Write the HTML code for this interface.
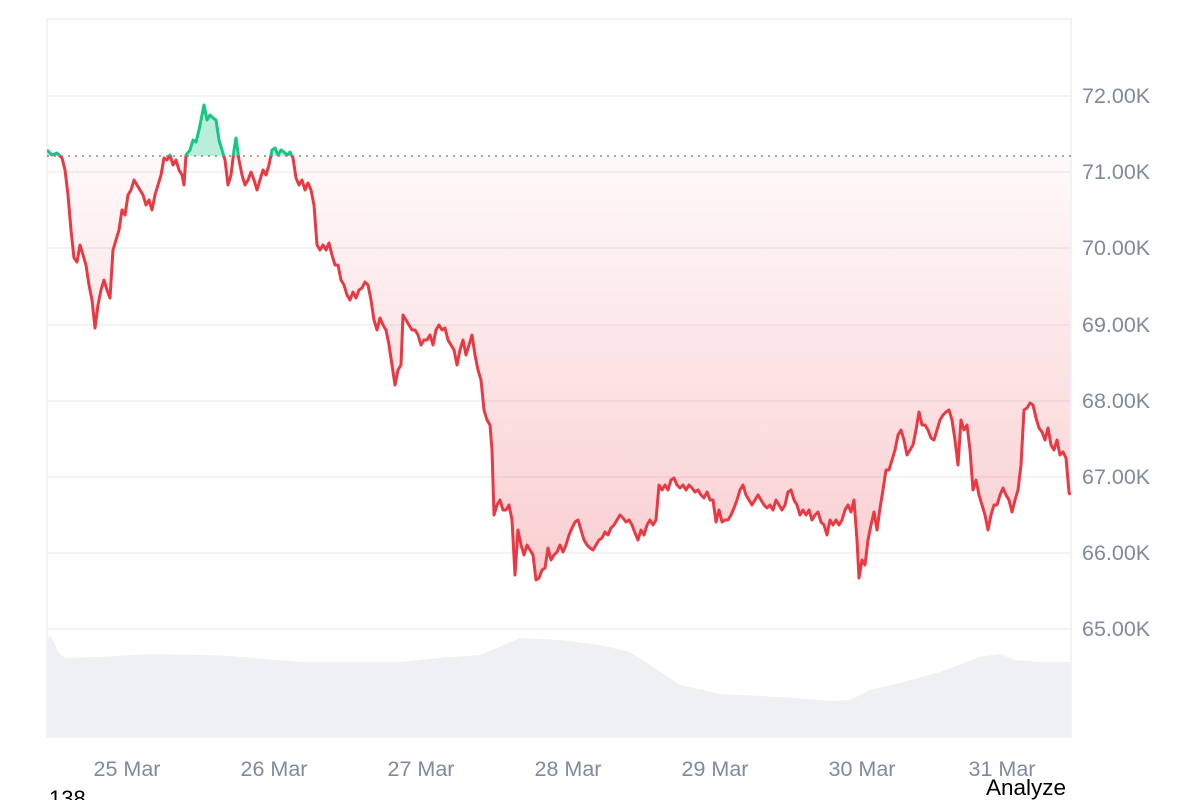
<!DOCTYPE html>
<html><head><style>
body{margin:0;background:#fff;width:1200px;height:800px;overflow:hidden;font-family:"Liberation Sans",sans-serif;}
</style></head><body>
<svg width="1200" height="800" xmlns="http://www.w3.org/2000/svg" style="position:absolute;left:0;top:0">
<defs>
<linearGradient id="rg" gradientUnits="userSpaceOnUse" x1="0" y1="156" x2="0" y2="590">
<stop offset="0" stop-color="#ea3943" stop-opacity="0.03"/>
<stop offset="1" stop-color="#ea3943" stop-opacity="0.25"/>
</linearGradient>
<clipPath id="below"><rect x="47" y="156" width="1030" height="600"/></clipPath>
<clipPath id="above"><rect x="47" y="0" width="1030" height="156"/></clipPath>
<path id="area" d="M47,156 L47,150 52,155 57,153 62,158 65,170 68,195 71,230 74,258 77,262 80,245 83,255 86,265 89,285 92,300 95,328 98,305 101,290 104,280 107,290 110,298 113,250 116,240 119,230 122,210 125,215 128,195 131,190 134,180 137,185 140,190 143,195 146,205 149,200 152,210 155,195 158,185 161,175 164,158 167,160 170,155 173,165 176,160 179,170 182,175 184,185 186,155 190,150 193,140 196,142 199,130 202,115 204,105 207,120 210,115 213,118 216,120 219,140 222,150 225,160 228,185 231,175 234,150 236,138 239,160 242,175 245,185 248,180 251,172 254,180 257,190 260,180 263,170 266,175 269,165 272,150 275,148 278,155 281,150 284,152 287,155 290,152 293,158 296,178 299,185 302,180 305,190 308,183 311,190 314,205 317,245 320,250 323,245 326,250 329,243 332,255 335,265 338,265 341,280 344,285 347,295 350,300 353,292 356,298 359,290 362,288 365,282 368,285 371,300 374,320 377,330 380,318 383,325 386,330 389,345 392,365 395,385 398,370 401,365 403,315 406,320 409,325 412,330 415,330 418,335 421,345 424,340 427,340 430,335 433,345 436,330 439,325 442,330 445,328 448,340 451,345 454,350 457,365 460,350 463,340 466,355 469,345 472,335 475,355 478,370 481,380 484,410 487,420 490,425 492,450 494,515 497,505 500,500 503,510 506,510 509,505 512,520 515,575 518,530 521,545 524,555 527,545 530,550 533,555 536,580 539,578 542,570 545,568 548,548 551,560 554,555 557,552 560,545 563,552 566,545 569,535 572,528 575,522 578,520 581,530 584,540 587,545 590,548 593,550 596,545 599,540 602,538 605,532 608,535 611,528 614,525 617,520 620,515 623,518 626,522 629,520 632,525 635,533 638,540 641,530 644,535 647,525 650,520 653,525 656,520 659,485 662,490 665,485 668,490 671,480 674,478 677,485 680,488 683,485 686,490 689,485 692,488 695,492 698,490 701,495 704,498 707,492 710,500 713,500 716,522 719,510 722,522 725,520 728,520 731,515 734,508 737,500 740,490 743,485 746,495 749,500 752,505 755,500 758,495 761,500 764,505 767,508 770,505 773,510 776,500 779,505 782,510 785,505 788,492 791,490 794,500 797,505 800,515 803,510 806,515 809,510 812,520 815,515 818,512 821,522 824,525 827,535 830,520 833,525 836,520 839,525 842,520 845,510 848,505 851,512 854,500 857,540 859,578 862,560 865,565 868,540 871,525 874,512 877,530 880,508 883,490 886,470 889,470 892,460 895,450 898,435 901,430 904,440 907,455 910,450 913,445 916,430 919,412 922,425 925,425 928,430 931,438 934,440 937,430 940,420 943,415 946,412 949,410 952,420 955,440 958,465 961,420 964,430 967,425 970,450 973,490 976,480 979,495 982,505 985,515 988,530 991,515 994,505 997,505 1000,495 1003,488 1006,495 1009,500 1012,512 1015,500 1018,490 1021,465 1024,410 1027,408 1030,403 1033,405 1036,418 1039,428 1042,432 1045,440 1048,428 1051,445 1054,450 1057,440 1060,455 1063,452 1066,458 1069,492 1070,495 L1070,156 Z"/>
<path id="ln" d="M47,150 52,155 57,153 62,158 65,170 68,195 71,230 74,258 77,262 80,245 83,255 86,265 89,285 92,300 95,328 98,305 101,290 104,280 107,290 110,298 113,250 116,240 119,230 122,210 125,215 128,195 131,190 134,180 137,185 140,190 143,195 146,205 149,200 152,210 155,195 158,185 161,175 164,158 167,160 170,155 173,165 176,160 179,170 182,175 184,185 186,155 190,150 193,140 196,142 199,130 202,115 204,105 207,120 210,115 213,118 216,120 219,140 222,150 225,160 228,185 231,175 234,150 236,138 239,160 242,175 245,185 248,180 251,172 254,180 257,190 260,180 263,170 266,175 269,165 272,150 275,148 278,155 281,150 284,152 287,155 290,152 293,158 296,178 299,185 302,180 305,190 308,183 311,190 314,205 317,245 320,250 323,245 326,250 329,243 332,255 335,265 338,265 341,280 344,285 347,295 350,300 353,292 356,298 359,290 362,288 365,282 368,285 371,300 374,320 377,330 380,318 383,325 386,330 389,345 392,365 395,385 398,370 401,365 403,315 406,320 409,325 412,330 415,330 418,335 421,345 424,340 427,340 430,335 433,345 436,330 439,325 442,330 445,328 448,340 451,345 454,350 457,365 460,350 463,340 466,355 469,345 472,335 475,355 478,370 481,380 484,410 487,420 490,425 492,450 494,515 497,505 500,500 503,510 506,510 509,505 512,520 515,575 518,530 521,545 524,555 527,545 530,550 533,555 536,580 539,578 542,570 545,568 548,548 551,560 554,555 557,552 560,545 563,552 566,545 569,535 572,528 575,522 578,520 581,530 584,540 587,545 590,548 593,550 596,545 599,540 602,538 605,532 608,535 611,528 614,525 617,520 620,515 623,518 626,522 629,520 632,525 635,533 638,540 641,530 644,535 647,525 650,520 653,525 656,520 659,485 662,490 665,485 668,490 671,480 674,478 677,485 680,488 683,485 686,490 689,485 692,488 695,492 698,490 701,495 704,498 707,492 710,500 713,500 716,522 719,510 722,522 725,520 728,520 731,515 734,508 737,500 740,490 743,485 746,495 749,500 752,505 755,500 758,495 761,500 764,505 767,508 770,505 773,510 776,500 779,505 782,510 785,505 788,492 791,490 794,500 797,505 800,515 803,510 806,515 809,510 812,520 815,515 818,512 821,522 824,525 827,535 830,520 833,525 836,520 839,525 842,520 845,510 848,505 851,512 854,500 857,540 859,578 862,560 865,565 868,540 871,525 874,512 877,530 880,508 883,490 886,470 889,470 892,460 895,450 898,435 901,430 904,440 907,455 910,450 913,445 916,430 919,412 922,425 925,425 928,430 931,438 934,440 937,430 940,420 943,415 946,412 949,410 952,420 955,440 958,465 961,420 964,430 967,425 970,450 973,490 976,480 979,495 982,505 985,515 988,530 991,515 994,505 997,505 1000,495 1003,488 1006,495 1009,500 1012,512 1015,500 1018,490 1021,465 1024,410 1027,408 1030,403 1033,405 1036,418 1039,428 1042,432 1045,440 1048,428 1051,445 1054,450 1057,440 1060,455 1063,452 1066,458 1069,492 1070,495"/>
</defs>
<rect x="47" y="19" width="1024" height="718" fill="none" stroke="#eeeff2" stroke-width="1.5"/>
<g stroke="#eeeff2" stroke-width="1.5">
<line x1="47" x2="1071" y1="96" y2="96"/><line x1="47" x2="1071" y1="172" y2="172"/>
<line x1="47" x2="1071" y1="248" y2="248"/><line x1="47" x2="1071" y1="325" y2="325"/>
<line x1="47" x2="1071" y1="401" y2="401"/><line x1="47" x2="1071" y1="477" y2="477"/>
<line x1="47" x2="1071" y1="553" y2="553"/><line x1="47" x2="1071" y1="629" y2="629"/>
</g>
<path d="M47,737 L47,638 L50,635 L53,640 L58,652 L65,658 L100,657 L150,654 L200,655 L230,656 L300,662 L400,662 L450,657 L480,655 L520,638 L560,640 L600,645 L630,652 L650,665 L680,685 L720,694 L780,697 L830,701 L850,700 L870,690 L900,683 L940,672 L980,657 L1000,654 L1015,660 L1040,662 L1071,662 L1071,737 Z" fill="#eef0f3"/>
<use href="#area" fill="url(#rg)" clip-path="url(#below)"/>
<use href="#area" fill="#16c784" fill-opacity="0.3" clip-path="url(#above)"/>
<line x1="47" x2="1071" y1="156" y2="156" stroke="#888" stroke-width="1.5" stroke-dasharray="2,5"/>
<use href="#ln" fill="none" stroke-width="3" stroke-linejoin="round" stroke="#ea3943" clip-path="url(#below)"/>
<use href="#ln" fill="none" stroke-width="3" stroke-linejoin="round" stroke="#16c784" clip-path="url(#above)"/>
<g font-size="21.5" fill="#808a9d" font-family="Liberation Sans, sans-serif">
<text x="1082" y="103">72.00K</text><text x="1082" y="179">71.00K</text>
<text x="1082" y="255">70.00K</text><text x="1082" y="332">69.00K</text>
<text x="1082" y="408">68.00K</text><text x="1082" y="484">67.00K</text>
<text x="1082" y="560">66.00K</text><text x="1082" y="636">65.00K</text>
<g text-anchor="middle">
<text x="127" y="776">25 Mar</text><text x="274" y="776">26 Mar</text>
<text x="421" y="776">27 Mar</text><text x="568" y="776">28 Mar</text>
<text x="715" y="776">29 Mar</text><text x="862" y="776">30 Mar</text>
<text x="1002" y="776">31 Mar</text>
</g></g>
<text x="49" y="806" font-size="22" fill="#000">138</text>
<text x="986" y="795" font-size="22.5" fill="#000">Analyze</text>
</svg>
</body></html>
